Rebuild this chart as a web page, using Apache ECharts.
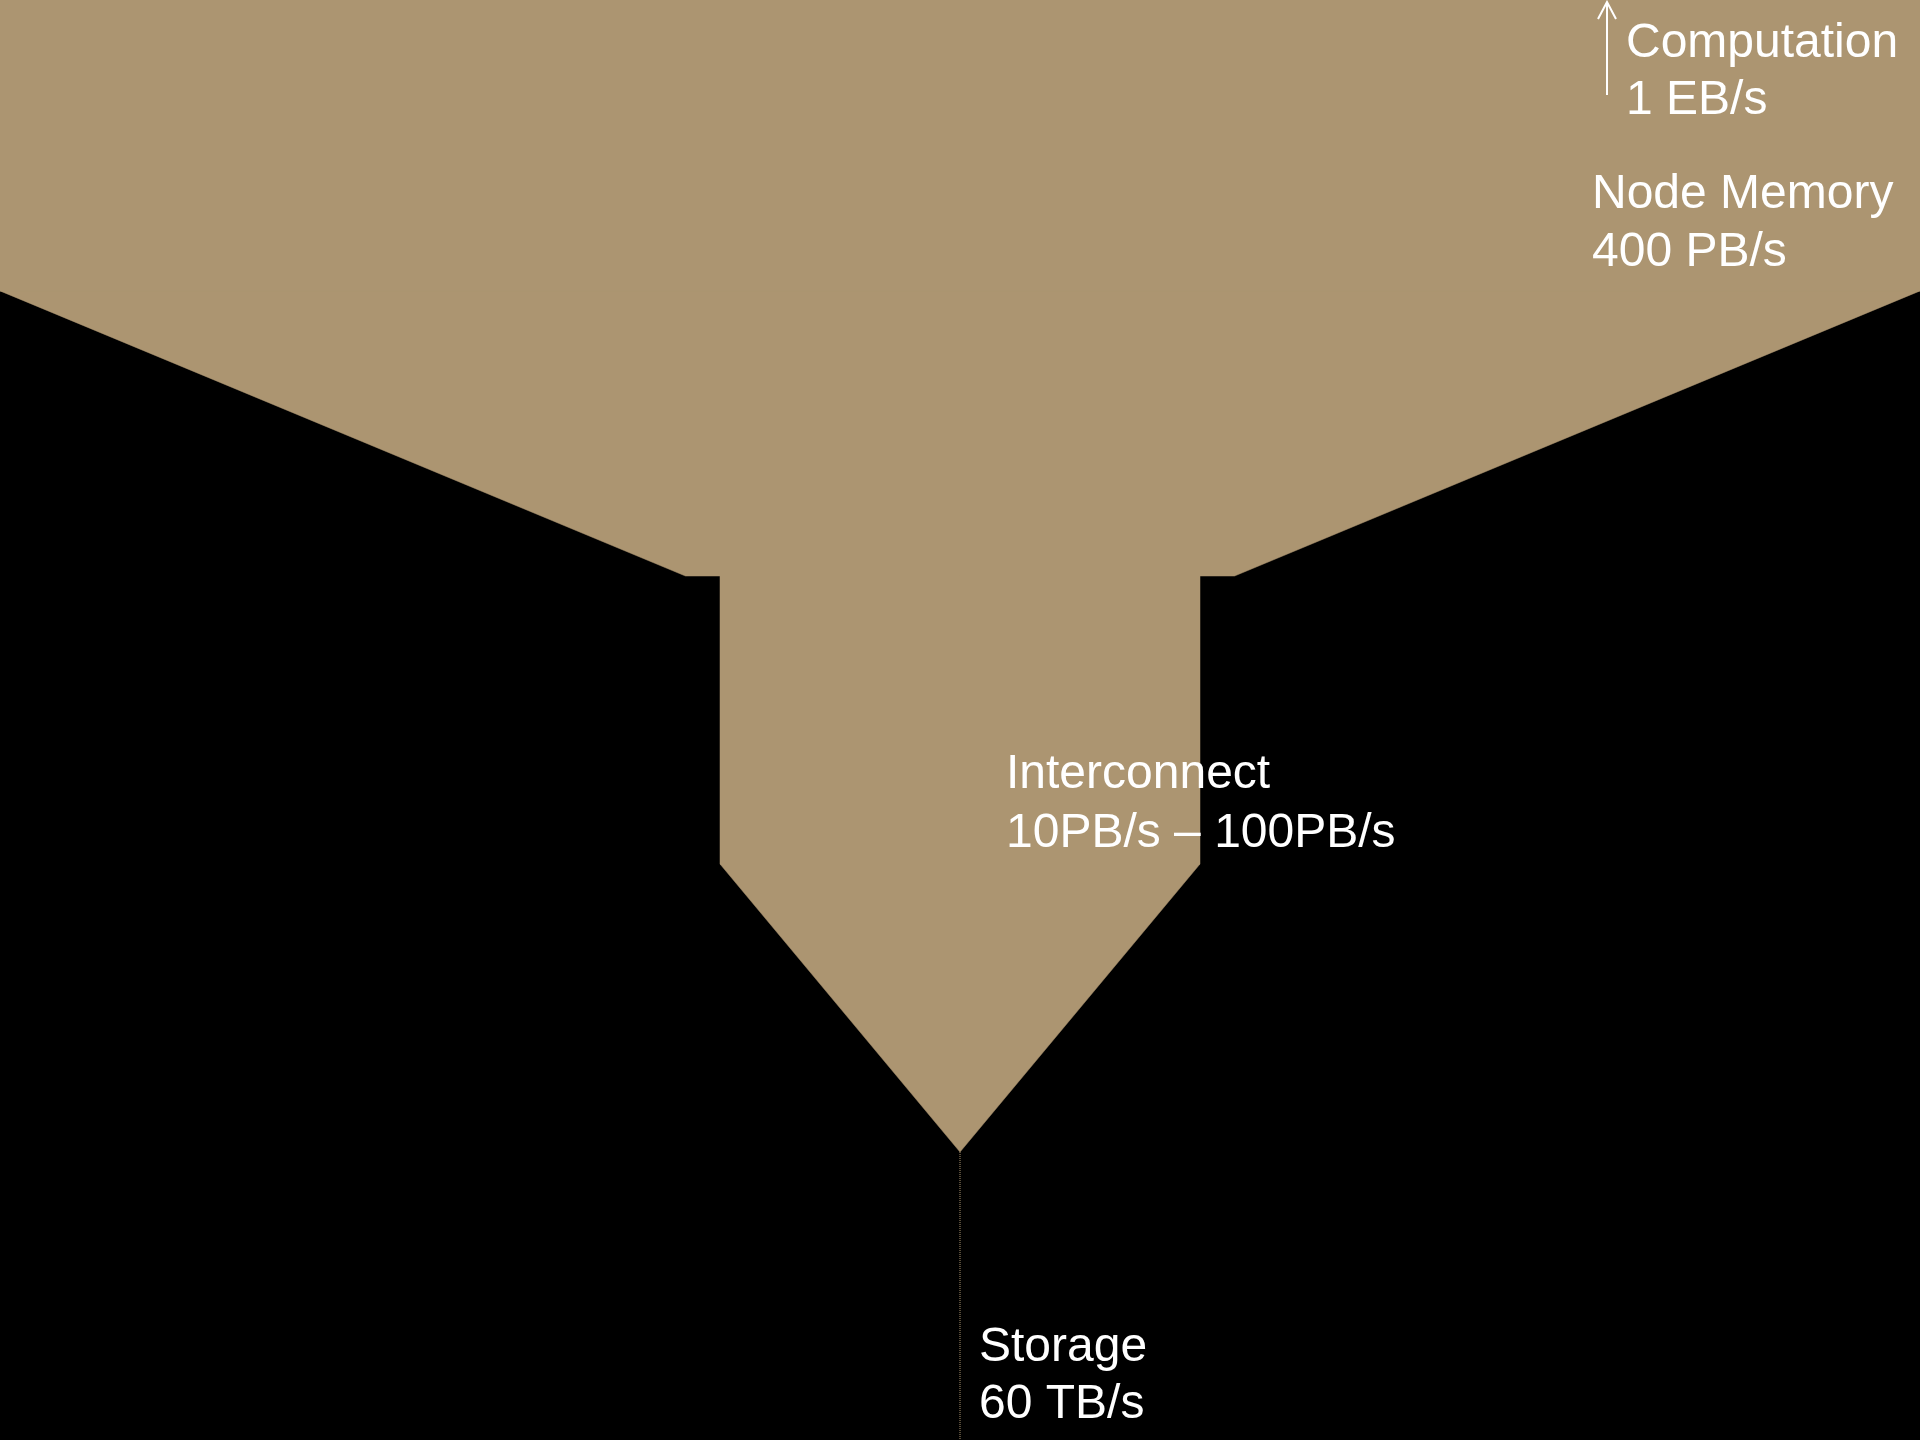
<!DOCTYPE html>
<html>
<head>
<meta charset="utf-8">
<script src="https://cdn.jsdelivr.net/npm/echarts@6/dist/echarts.min.js"></script>
<style>
html,body{margin:0;padding:0;background:#000;}
#chart{width:1920px;height:1440px;}
</style>
</head>
<body>
<div id="chart"></div>
<script>
// Level names and bandwidth labels
const levelNames = ['Computation', 'Node Memory', 'Interconnect', 'Storage'];
const bandwidthLabels = ['1 EB/s', '400 PB/s', '10PB/s \u2013 100PB/s', '60 TB/s'];
// Funnel segments (depth in level units, half-width in relative units)
const segTop = [0, 1.01, 2.0, 3.0];
const segBottom = [1.01, 2.0, 3.0, 4.0];
const segHalfTop = [50, 50, 12.5, 12.5];
const segHalfBottom = [50, 14.3, 12.5, 0];
// Storage trickle
const storageDepth = [4.0, 5.0];
const storageHalf = [0, 0];

const FILL = '#AC9571';
const chart = echarts.init(document.getElementById('chart'), null, {renderer: 'canvas'});

const segData = segTop.map((t, i) => [t, segBottom[i], segHalfTop[i], segHalfBottom[i]]);

const font = '48px "Liberation Sans", Arial, sans-serif';
function txt(text, x, y) {
  return {type: 'text', x: x, y: y, z: 100, zlevel: 0, silent: true,
    style: {text: text, font: font, fill: '#fff', textAlign: 'left', textVerticalAlign: 'middle'}};
}

chart.setOption({
  backgroundColor: '#000',
  animation: false,
  grid: {left: 0, right: 0, top: 0, bottom: 0},
  xAxis: {type: 'value', min: -50, max: 50, show: false},
  yAxis: {type: 'value', min: 0, max: 5, inverse: true, show: false},
  series: [
    {
      type: 'custom',
      z: 1,
      data: segData,
      encode: {x: [2, 3], y: [0, 1]},
      renderItem: function (params, api) {
        const t = api.value(0), b = api.value(1), ht = api.value(2), hb = api.value(3);
        const pts = [api.coord([-ht, t]), api.coord([ht, t]), api.coord([hb, b]), api.coord([-hb, b])];
        return {type: 'polygon', shape: {points: pts}, style: {fill: FILL, stroke: FILL, lineWidth: 0.5}};
      }
    },
    {
      type: 'line',
      z: 2,
      data: storageHalf.map((h, i) => [h, storageDepth[i]]),
      symbol: 'none',
      lineStyle: {color: FILL, width: 1, type: 'dotted'}
    }
  ],
  graphic: {
    elements: [
      {type: 'line', z: 100, silent: true, shape: {x1: 1607, y1: 95, x2: 1607, y2: 3}, style: {stroke: '#fff', lineWidth: 2}},
      {type: 'polyline', z: 100, silent: true, shape: {points: [[1598, 19], [1607, 2], [1616, 19]]}, style: {stroke: '#fff', lineWidth: 2, fill: null}},
      txt(levelNames[0], 1626, 44),
      txt(bandwidthLabels[0], 1626, 101),
      txt(levelNames[1], 1592, 195),
      txt(bandwidthLabels[1], 1592, 253),
      txt(levelNames[2], 1006, 775),
      txt(bandwidthLabels[2], 1006, 834),
      txt(levelNames[3], 979, 1348),
      txt(bandwidthLabels[3], 979, 1405)
    ]
  }
});
</script>
</body>
</html>
